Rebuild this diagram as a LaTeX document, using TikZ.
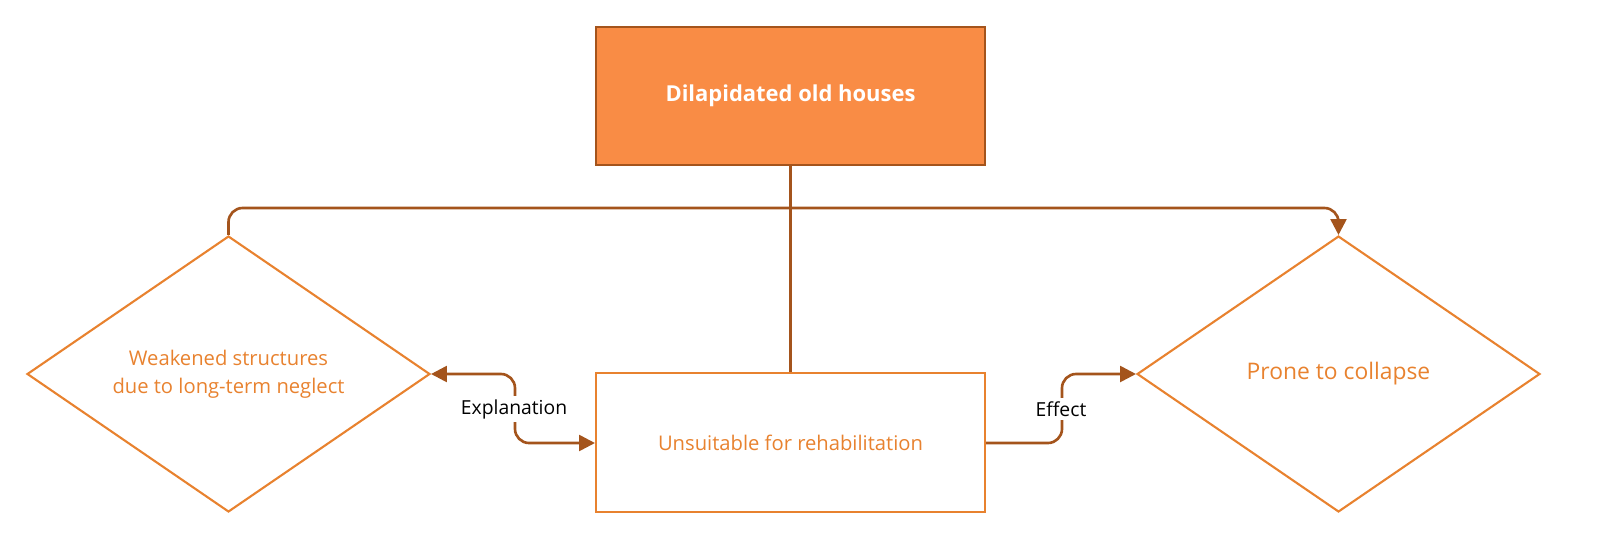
\documentclass[tikz,border=0pt]{standalone}
\usepackage{fontspec}
\setmainfont{Open Sans}
\usetikzlibrary{shapes.geometric,arrows.meta}
\definecolor{fillor}{HTML}{F98C45}
\definecolor{darkbr}{HTML}{A4541C}
\definecolor{lineor}{HTML}{E8822F}
\definecolor{txtor}{HTML}{E8822F}
\begin{document}
\begin{tikzpicture}[x=0.02cm,y=-0.02cm,
  conn/.style={darkbr,line width=1.5pt,rounded corners=8pt},
  tip/.style={-{Triangle[length=9pt,width=9pt]}},
  dia/.style={diamond,draw=lineor,line width=1.2pt,aspect=1.46,minimum width=8.06cm,minimum height=5.52cm,inner sep=0pt,text=txtor},
  lbl/.style={font=\fontsize{11}{13}\selectfont,text=black,fill=white,inner sep=2pt}]
\useasboundingbox (0,0) rectangle (1600,552);
\node[draw=darkbr,fill=fillor,line width=1.2pt,minimum width=7.78cm,minimum height=2.76cm,
  text=white,font=\fontsize{12.5}{15}\selectfont\bfseries] (top) at (790.5,96) {Dilapidated old houses};
\node[draw=lineor,fill=white,line width=1.2pt,minimum width=7.78cm,minimum height=2.78cm,
  text=txtor,font=\fontsize{11.5}{14}\selectfont] (bot) at (790.5,442.5) {Unsuitable for rehabilitation};
\node[dia,align=center,font=\fontsize{11.5}{16}\selectfont] (ld) at (228.5,374) {Weakened structures\\due to long-term neglect};
\node[dia,font=\fontsize{13}{15}\selectfont] (rd) at (1338.5,374) {Prone to collapse};
\draw[conn] (top.south) -- (bot.north);
\draw[conn,tip] (ld.north) -- (228.5,208) -- (1338.5,208) -- (rd.north);
\draw[conn,{Triangle[length=9pt,width=9pt]}-{Triangle[length=9pt,width=9pt]}] (ld.east) -- (515,374) -- (515,443) -- (bot.west |- 0,443);
\draw[conn,tip] (bot.east |- 0,443) -- (1062,443) -- (1062,374) -- (rd.west);
\node[lbl] (ex) at (514,409) {Explanation};
\node[lbl] (ef) at (1061,409) {Effect};
\end{tikzpicture}
\end{document}
